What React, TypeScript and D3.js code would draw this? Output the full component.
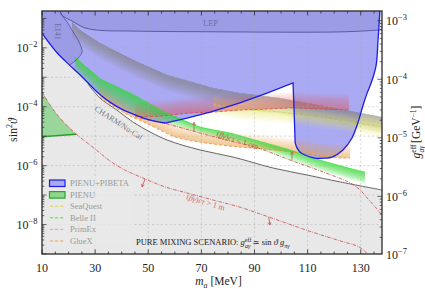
import { useEffect, useRef } from 'react';
import * as d3 from 'd3';

type Pt = [number, number];

const SERIF = "'Liberation Serif', 'DejaVu Serif', serif";

// axis ticks
const massTicks = [10, 30, 50, 70, 90, 110, 130];
const mixLabelTicks = [1e-2, 1e-4, 1e-6, 1e-8];
const gLabelTicks = [1e-3, 1e-4, 1e-5, 1e-6, 1e-7];

// all curves: [m_a in MeV, sin^2 theta]
// PIENU+PIBETA exclusion boundary
const pibetaLower: Pt[] = [
  [10, 3.16e-2], [13, 1.35e-2], [16, 6.3e-3], [20, 2.8e-3], [24, 1.29e-3],
  [28, 5.6e-4], [32, 2.5e-4], [36, 1.35e-4], [40, 8.3e-5], [44, 5.8e-5],
  [48, 4.2e-5], [52, 3.3e-5], [56.3, 2.8e-5],
];
const pibetaNotch: Pt[] = [
  [56.3, 2.8e-5], [64.6, 4.1e-5], [73.3, 6.6e-5], [84.5, 1.35e-4], [94.7, 2.9e-4],
  [104.5, 6.4e-4], [104.9, 7.7e-5], [105.3, 5.9e-6],
];
const pibetaRight: Pt[] = [
  [105.3, 5.9e-6], [106.0, 4.0e-6], [107.1, 2.9e-6], [109.0, 2.3e-6], [112.8, 1.8e-6],
  [116.5, 1.8e-6], [119.2, 1.96e-6], [123.3, 3.4e-6], [126.7, 8.7e-6], [129.0, 3.0e-5],
  [130.9, 1.15e-4], [132.4, 2.9e-4], [134.3, 8.1e-4], [135.8, 2.6e-3], [136.5, 1.8e-2],
  [137.1, 0.13], [137.3, 0.3],
];

const e141Edge: Pt[] = [
  [16.8, 0.18], [17.5, 0.13], [19.4, 7.6e-2], [21.3, 4.0e-2], [23.2, 2.15e-2],
  [24.3, 1.35e-2], [25.1, 7.2e-3], [23.6, 4.5e-3], [22.0, 3.3e-3], [20.3, 2.6e-3],
];
const lepEdge: Pt[] = [
  [16.8, 0.18], [17.4, 0.13], [21.8, 7.7e-2], [25.5, 5.0e-2], [30.6, 4.0e-2],
  [44.3, 3.7e-2], [74.4, 3.5e-2], [124, 3.5e-2], [138, 4.1e-2],
];
const charmNuCal: Pt[] = [
  [27.3, 6.0e-4], [31.8, 1.98e-4], [38.2, 7.7e-5], [44.3, 3.0e-5], [50.7, 1.39e-5],
  [57.1, 7.4e-6], [69.5, 3.4e-6], [81.9, 1.96e-6], [97.0, 8.3e-7], [109.8, 4.8e-7],
  [122.2, 2.8e-7], [138, 1.49e-7],
];
const pienuRegion: Pt[] = [
  [10, 3.2e-4], [13, 1.15e-4], [16.8, 4.1e-5], [22.9, 1.16e-5], [10, 9.6e-6],
];

// projections
const seaquestEdge: Pt[] = [
  [21.3, 7.5e-2], [24.3, 4.0e-2], [31.8, 1.46e-2], [44.3, 3.9e-3], [57.1, 1.2e-3],
  [74.4, 4.3e-4], [84.5, 2.9e-4], [99.6, 1.98e-4], [111.7, 1.24e-4], [124.1, 7.7e-5], [138, 4.5e-5],
];
const seaquestLine: Pt[] = [
  [74.4, 1.24e-4], [84.5, 8.4e-5], [99.6, 6.6e-5], [111.7, 4.8e-5], [124.1, 3.3e-5], [138, 2.05e-5],
];
const belle2Edge: Pt[] = [
  [22.4, 4.9e-3], [31.8, 9.0e-4], [44.3, 2.6e-4], [55.6, 7.0e-5], [69.5, 2.05e-5],
  [80.8, 1.28e-5], [90.2, 7.4e-6], [103.4, 3.4e-6], [115.8, 1.44e-6], [129.7, 6.6e-7], [131.6, 6.1e-7],
];
const belle2Floor: Pt[] = [
  [22.4, 1.6e-3], [31.8, 2.5e-4], [44.3, 5.7e-5], [55.6, 2.8e-5], [69.5, 1.28e-5],
  [80.8, 6.9e-6], [90.2, 4.3e-6], [103.4, 1.55e-6], [115.8, 6.1e-7], [126.0, 3.25e-7], [131.6, 2.4e-7],
];
const primexLine: Pt[] = [
  [45.0, 4.5e-5], [54.4, 4.8e-5], [65.7, 6.1e-5], [74.4, 6.6e-5], [84.5, 7.7e-5],
  [95.8, 8.4e-5], [104.1, 9.1e-5], [114.7, 8.4e-5], [125.6, 7.7e-5],
];
const gluexLine: Pt[] = [
  [31.8, 2.1e-4], [41.2, 6.0e-5], [50.7, 2.4e-5], [60.1, 9.4e-6], [69.5, 6.3e-6],
  [80.8, 4.6e-6], [92.8, 3.7e-6], [107.1, 2.7e-6], [116.5, 1.96e-6], [126.0, 1.8e-6],
];

// decay length contours
const decayShort: Pt[] = [
  [46.9, 4.0e-5], [55.6, 2.8e-5], [69.5, 1.28e-5], [80.8, 6.9e-6], [90.2, 4.3e-6],
  [103.4, 1.55e-6], [115.8, 6.1e-7], [126.0, 2.6e-7], [129.7, 1.5e-7], [133.1, 6.8e-8],
  [135.8, 3.65e-8], [138, 2.1e-8],
];
const decayLong: Pt[] = [
  [10, 3.2e-4], [13, 1.15e-4], [16.8, 4.1e-5], [22.8, 1.19e-5], [28.1, 5.0e-6],
  [31.8, 2.7e-6], [35.6, 1.44e-6], [41.2, 7.1e-7], [48.0, 3.8e-7], [56.3, 1.9e-7],
  [64.6, 1.18e-7], [74.4, 6.8e-8], [84.5, 3.9e-8], [95.4, 1.8e-8], [111.6, 5.6e-9],
  [122.2, 2.8e-9], [129.2, 1.77e-9], [131.7, 1.2e-9], [132.7, 9.5e-10],
];
const decayArrows = [
  { m: 67.2, line: 'short', dx: 0, dy: -9 },
  { m: 104.1, line: 'short', dx: 0, dy: -9 },
  { m: 48.8, line: 'long', dx: -3, dy: 8 },
  { m: 95.4, line: 'long', dx: 1, dy: 8 },
];

const regionLabels = [
  { text: 'LEP', m: 70.6, s: 5.5e-2, angle: 0, color: '#6d6da6', size: 8.5 },
  { text: 'E141', m: 14.9, s: 7.0e-2, angle: 90, color: '#6d6da6', size: 8 },
  { text: 'CHARM/Nu-Cal', m: 29.6, s: 7.7e-5, angle: 33, color: '#7a7a7a', size: 8 },
];

const legendEntries = [
  { label: 'PIENU+PIBETA', kind: 'box', fill: '#a9a9f4', stroke: '#1c1ce8' },
  { label: 'PIENU', kind: 'box', fill: '#90d490', stroke: '#22aa22' },
  { label: 'SeaQuest', kind: 'dash', fill: '', stroke: '#d4d448' },
  { label: 'Belle II', kind: 'dash', fill: '', stroke: '#4ede4e' },
  { label: 'PrimEx', kind: 'dash', fill: '', stroke: '#f0a090' },
  { label: 'GlueX', kind: 'dash', fill: '', stroke: '#f0a050' },
];

export default function App() {
  const ref = useRef<SVGSVGElement>(null);

  useEffect(() => {
    if (!ref.current) return;
    const svg = d3.select(ref.current);
    svg.selectAll('*').remove();

    const W = 425;
    const H = 289;
    const left = 42, right = 382, top = 11, bottom = 254;

    const x = d3.scaleLinear().domain([10, 138]).range([left, right]);
    const y = d3.scaleLog().domain([1e-9, 10 ** -0.75]).range([bottom, top]);
    const yG = d3.scaleLog().domain([10 ** -6.983, 10 ** -2.834]).range([bottom, top]);

    const toPx = (pts: Pt[]): Pt[] => pts.map(([m, s]) => [x(m), y(s)] as Pt);
    const shift = (pts: Pt[], dy: number): Pt[] => pts.map(([a, b]) => [a, b + dy] as Pt);
    const smooth = d3.line<Pt>().x((d) => x(d[0])).y((d) => y(d[1])).curve(d3.curveCatmullRom.alpha(0.5));
    const straight = d3.line<Pt>().x((d) => x(d[0])).y((d) => y(d[1]));
    const chain = (...parts: string[]) => parts.map((p, i) => (i ? p.replace(/^M/, 'L') : p)).join('');

    const yAt = (pts: Pt[], xv: number) => {
      for (let i = 1; i < pts.length; i++) {
        if (xv <= pts[i][0]) {
          const [x0, y0] = pts[i - 1];
          const [x1, y1] = pts[i];
          return x1 === x0 ? y1 : y0 + ((y1 - y0) * (xv - x0)) / (x1 - x0);
        }
      }
      return pts[pts.length - 1][1];
    };

    svg.append('rect').attr('width', W).attr('height', H).attr('fill', '#fff');
    svg.append('defs').append('clipPath').attr('id', 'plot-clip')
      .append('rect').attr('x', left).attr('y', top).attr('width', right - left).attr('height', bottom - top);
    const plot = svg.append('g').attr('clip-path', 'url(#plot-clip)');

    // stacked translucent strips: opaque at the solid edge, fading to the faint edge
    const fade = (solid: Pt[], faint: Pt[], color: string, maxOp: number, n = 14) => {
      const xa = Math.max(solid[0][0], faint[0][0]);
      const xb = Math.min(solid[solid.length - 1][0], faint[faint.length - 1][0]);
      const xs = d3.range(xa, xb, 1);
      xs.push(xb);
      const ys = xs.map((v) => yAt(solid, v));
      const yf = xs.map((v) => yAt(faint, v));
      const a = 1 - Math.pow(1 - maxOp, 1 / n);
      const layer = plot.append('g').attr('fill', color).attr('fill-opacity', a);
      for (let k = 1; k <= n; k++) {
        const t = k / n;
        const area = d3.area<number>()
          .x((v) => v)
          .y0((_, i) => ys[i])
          .y1((_, i) => ys[i] + (yf[i] - ys[i]) * t);
        layer.append('path').attr('d', area(xs));
      }
    };

    // --- grey region below CHARM / Nu-Cal ---
    const greyTop = [...pibetaLower.filter((d) => d[0] < charmNuCal[0][0]), ...charmNuCal];
    plot.append('path')
      .attr('d', smooth(greyTop) + `L${right + 5},${bottom + 5}L${left - 5},${bottom + 5}L${left - 5},${y(greyTop[0][1])}Z`)
      .attr('fill', '#e8e8e8');

    // --- PIENU+PIBETA ---
    const pibetaOutline = chain(smooth(pibetaLower)!, straight(pibetaNotch)!, smooth(pibetaRight)!);
    plot.append('path')
      .attr('d', pibetaOutline + `L${right + 5},${top - 5}L${left - 5},${top - 5}L${left - 5},${y(pibetaLower[0][1])}Z`)
      .attr('fill', '#aaaaf4');

    // E141 and LEP overlays
    const e141End = e141Edge[e141Edge.length - 1];
    const back = pibetaLower.filter((d) => d[0] < e141End[0]).reverse()
      .map((d) => `L${x(d[0])},${y(d[1])}`).join('');
    plot.append('path')
      .attr('d', smooth(e141Edge) + back + `L${left - 5},${y(pibetaLower[0][1])}L${left - 5},${top - 5}L${x(e141Edge[0][0])},${top - 5}Z`)
      .attr('fill', '#3c3c8c').attr('fill-opacity', 0.13);
    plot.append('path')
      .attr('d', smooth(lepEdge) + `L${right + 5},${top - 5}L${x(lepEdge[0][0])},${top - 5}Z`)
      .attr('fill', '#3c3c8c').attr('fill-opacity', 0.13);

    // --- projections ---
    const sqEdge = toPx(seaquestEdge);
    const sqLine = toPx(seaquestLine);
    fade(sqEdge, shift(sqEdge, 16), '#857a66', 0.55);
    fade(sqLine, shift(sqLine, -9), '#d8d84a', 0.4);
    fade(sqLine, shift(sqLine, 11), '#e0e060', 0.5);

    const pxPrimex = toPx(primexLine);
    fade(pxPrimex, shift(pxPrimex, -16), '#e25a5a', 0.5);
    const pxGluex = toPx(gluexLine);
    fade(pxGluex, shift(pxGluex, -14), '#f5a050', 0.55);
    fade(toPx(belle2Edge), toPx(belle2Floor), '#33dd33', 0.7);

    // PIENU
    plot.append('path')
      .attr('d', smooth(pienuRegion.slice(0, 4)) + `L${x(pienuRegion[4][0])},${y(pienuRegion[4][1])}Z`)
      .attr('fill', '#90d490').attr('fill-opacity', 0.9);
    plot.append('path').attr('d', straight(pienuRegion.slice(3))!)
      .attr('stroke', '#1f9f1f').attr('stroke-width', 1.4).attr('fill', 'none');

    // --- grid ---
    const grid = plot.append('g').attr('stroke', '#a8a8a8').attr('stroke-opacity', 0.55)
      .attr('stroke-width', 0.8).attr('stroke-dasharray', '2.2,2.2');
    massTicks.slice(1).forEach((m) => {
      grid.append('line').attr('x1', x(m)).attr('x2', x(m)).attr('y1', top).attr('y2', bottom);
    });
    d3.range(-8, -1).forEach((e) => {
      grid.append('line').attr('x1', left).attr('x2', right).attr('y1', y(10 ** e)).attr('y2', y(10 ** e));
    });

    // --- lines ---
    const stroke = (d: string, color: string, w: number, dash?: string, op = 1) => {
      const p = plot.append('path').attr('d', d).attr('fill', 'none')
        .attr('stroke', color).attr('stroke-width', w).attr('stroke-opacity', op);
      if (dash) p.attr('stroke-dasharray', dash);
    };
    stroke(smooth(charmNuCal)!, '#666', 1);
    stroke(smooth(e141Edge)!, '#5252a0', 0.8);
    stroke(smooth(lepEdge)!, '#45458f', 0.8);
    stroke(smooth(seaquestLine)!, '#cccc3a', 0.8, '3,2', 0.8);
    stroke(smooth(primexLine)!, '#e04848', 0.8, '3,2');
    stroke(smooth(gluexLine)!, '#f08a30', 0.8, '3,2');
    stroke(smooth(belle2Edge)!, '#3ee03e', 0.8, undefined, 0.7);
    stroke(smooth(decayLong)!, '#c94848', 0.8, '3.5,1.2,0.8,1.2');
    stroke(smooth(decayShort)!, '#c94848', 0.8, '3.5,1.2,0.8,1.2');
    stroke(pibetaOutline, '#1c1ce8', 1.3);

    // arrows on decay-length contours
    const shortPx = toPx(decayShort);
    const longPx = toPx(decayLong);
    decayArrows.forEach((a) => {
      const xp = x(a.m);
      const yp = yAt(a.line === 'short' ? shortPx : longPx, xp);
      const color = a.line === 'short' ? '#b8604a' : '#c94848';
      const g = plot.append('g').attr('stroke', color).attr('stroke-width', 0.8).attr('fill', 'none');
      g.append('line').attr('x1', xp).attr('y1', yp).attr('x2', xp + a.dx).attr('y2', yp + a.dy);
      const ang = Math.atan2(a.dy, a.dx);
      [ang + Math.PI - 0.5, ang + Math.PI + 0.5].forEach((t) => {
        g.append('line')
          .attr('x1', xp + a.dx).attr('y1', yp + a.dy)
          .attr('x2', xp + a.dx + 3 * Math.cos(t)).attr('y2', yp + a.dy + 3 * Math.sin(t));
      });
    });

    // region labels
    regionLabels.forEach((l) => {
      const lx = x(l.m);
      const ly = y(l.s);
      plot.append('text').attr('transform', `translate(${lx},${ly}) rotate(${l.angle})`)
        .attr('font-size', l.size).attr('fill', l.color).text(l.text);
    });

    const decayLabel = (m: number, s: number, angle: number, color: string, tail: string) => {
      const t = plot.append('text')
        .attr('transform', `translate(${x(m)},${y(s)}) rotate(${angle})`)
        .attr('font-size', 8).attr('fill', color);
      t.append('tspan').text('(');
      t.append('tspan').attr('font-style', 'italic').text('βγ');
      t.append('tspan').text(')');
      t.append('tspan').attr('font-style', 'italic').text('cτ');
      t.append('tspan').text(tail);
    };
    decayLabel(75.5, 1.01e-5, 18, '#a8683a', ' < 1 cm');
    decayLabel(64.2, 7.4e-8, 17, '#d46a6a', ' > 1 m');

    // scenario text
    const sc = svg.append('text').attr('x', 136).attr('y', 245).attr('font-size', 8.5).attr('fill', '#222');
    sc.append('tspan').text('PURE MIXING SCENARIO: ');
    sc.append('tspan').attr('font-style', 'italic').text('g');
    sc.append('tspan').attr('dy', -3.5).attr('font-size', 6).text('eff');
    sc.append('tspan').attr('dx', -6.5).attr('dy', 6).attr('font-size', 6).attr('font-style', 'italic').text('aγ');
    sc.append('tspan').attr('dy', -2.5).text(' ≃ sin ');
    sc.append('tspan').attr('font-style', 'italic').text('ϑ g');
    sc.append('tspan').attr('dy', 2.5).attr('font-size', 6).attr('font-style', 'italic').text('πγ');

    // --- legend ---
    const lg = svg.append('g');
    lg.append('rect').attr('x', 45).attr('y', 176).attr('width', 88).attr('height', 70)
      .attr('fill', '#e8e8e8').attr('fill-opacity', 0.8);
    legendEntries.forEach((e, i) => {
      const ry = 183 + 11.6 * i;
      if (e.kind === 'box') {
        lg.append('rect').attr('x', 49.5).attr('y', ry - 3).attr('width', 15.5).attr('height', 6.5)
          .attr('fill', e.fill).attr('stroke', e.stroke).attr('stroke-width', 1.2);
      } else {
        lg.append('line').attr('x1', 50).attr('x2', 65).attr('y1', ry).attr('y2', ry)
          .attr('stroke', e.stroke).attr('stroke-width', 1).attr('stroke-dasharray', '3.2,1.8');
      }
      lg.append('text').attr('x', 70).attr('y', ry + 3).attr('font-size', 8.5)
        .attr('fill', '#9a9a9a').text(e.label);
    });

    // --- frame & ticks ---
    const axes = svg.append('g').attr('stroke', '#2a2a2a');
    d3.range(10, 138.1, 5).forEach((m) => {
      const len = (m - 10) % 20 === 0 ? 4.5 : 2.5;
      axes.append('line').attr('x1', x(m)).attr('x2', x(m)).attr('y1', bottom).attr('y2', bottom - len).attr('stroke-width', 0.8);
      axes.append('line').attr('x1', x(m)).attr('x2', x(m)).attr('y1', top).attr('y2', top + len).attr('stroke-width', 0.8);
    });
    const logTicks = (scale: d3.ScaleLogarithmic<number, number>, from: number, to: number, x0: number, dir: number) => {
      const [lo, hi] = scale.domain();
      for (let e = from; e <= to; e++) {
        for (let k = 1; k <= 9; k++) {
          const v = k * 10 ** e;
          if (v < lo || v > hi) continue;
          const len = k === 1 ? 4.5 : 2.3;
          axes.append('line').attr('x1', x0).attr('x2', x0 + dir * len)
            .attr('y1', scale(v)).attr('y2', scale(v)).attr('stroke-width', 0.7);
        }
      }
    };
    logTicks(y, -9, -1, left, 1);
    logTicks(yG, -7, -3, right, -1);
    axes.append('rect').attr('x', left).attr('y', top).attr('width', right - left).attr('height', bottom - top)
      .attr('fill', 'none').attr('stroke-width', 1.3);

    // tick labels
    const labels = svg.append('g').attr('fill', '#222').attr('font-size', 12);
    massTicks.forEach((m) => {
      labels.append('text').attr('x', x(m)).attr('y', 271.5).attr('text-anchor', 'middle').text(m);
    });
    const powLabel = (xp: number, yp: number, v: number, anchor: string) => {
      const t = labels.append('text').attr('x', xp).attr('y', yp).attr('text-anchor', anchor);
      t.append('tspan').text('10');
      t.append('tspan').attr('dy', -5).attr('font-size', 8.5).text(`−${Math.round(-Math.log10(v))}`);
    };
    mixLabelTicks.forEach((v) => powLabel(37.5, y(v) + 4.5, v, 'end'));
    gLabelTicks.forEach((v) => powLabel(386, yG(v) + 4.5, v, 'start'));

    // axis titles
    const xt = svg.append('text').attr('x', 218.5).attr('y', 285).attr('text-anchor', 'middle')
      .attr('font-size', 11.5).attr('fill', '#222');
    xt.append('tspan').attr('font-style', 'italic').text('m');
    xt.append('tspan').attr('dy', 2.5).attr('font-size', 8).attr('font-style', 'italic').text('a');
    xt.append('tspan').attr('dy', -2.5).text(' [MeV]');

    const yt = svg.append('text').attr('transform', 'translate(17,130) rotate(-90)')
      .attr('text-anchor', 'middle').attr('font-size', 12).attr('fill', '#222');
    yt.append('tspan').text('sin');
    yt.append('tspan').attr('dy', -5).attr('font-size', 8).text('2');
    yt.append('tspan').attr('dy', 5).attr('font-style', 'italic').text('ϑ');

    const gt = svg.append('text').attr('transform', 'translate(420,132) rotate(-90)')
      .attr('text-anchor', 'middle').attr('font-size', 11.5).attr('fill', '#222');
    gt.append('tspan').attr('font-style', 'italic').text('g');
    gt.append('tspan').attr('dy', -4.5).attr('font-size', 7.5).text('eff');
    gt.append('tspan').attr('dx', -8).attr('dy', 8).attr('font-size', 7.5).attr('font-style', 'italic').text('aγ');
    gt.append('tspan').attr('dy', -3.5).text(' [GeV');
    gt.append('tspan').attr('dy', -4.5).attr('font-size', 7.5).text('−1');
    gt.append('tspan').attr('dy', 4.5).text(']');
  }, []);

  return (
    <svg
      ref={ref}
      width={425}
      height={289}
      style={{ position: 'absolute', left: 0, top: 0, fontFamily: SERIF }}
    />
  );
}
